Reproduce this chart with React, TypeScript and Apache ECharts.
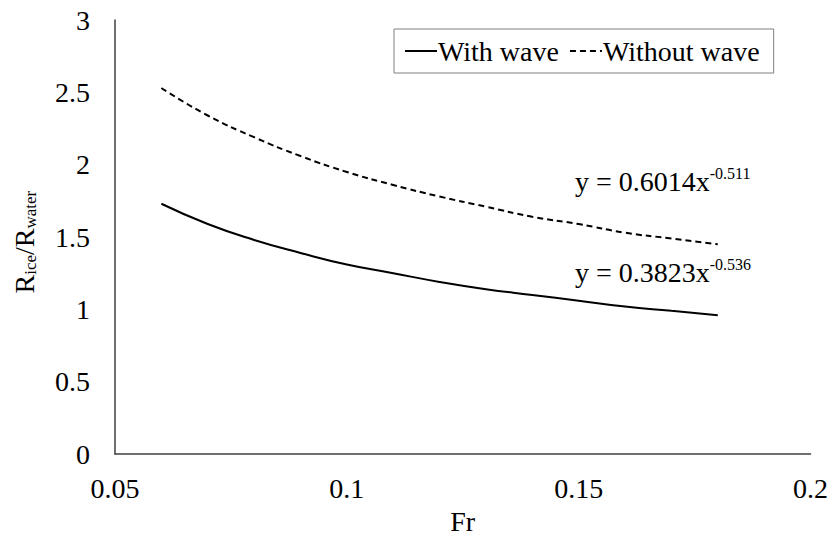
import React, { useEffect, useRef } from "react";
import * as echarts from "echarts";

const frValues = [0.06, 0.07, 0.08, 0.09, 0.1, 0.11, 0.12, 0.13, 0.14, 0.15, 0.16, 0.17, 0.18];
const withWave = [1.73, 1.59, 1.48, 1.39, 1.31, 1.25, 1.19, 1.14, 1.1, 1.06, 1.02, 0.99, 0.96];
const withoutWave = [2.53, 2.34, 2.19, 2.06, 1.95, 1.86, 1.78, 1.71, 1.64, 1.59, 1.53, 1.49, 1.45];
const seriesNames = ["With wave", "Without wave"];
const fitLabels = [
  { base: "y = 0.6014x", exp: "-0.511" },
  { base: "y = 0.3823x", exp: "-0.536" },
];

const FONT = "Liberation Serif";
const FS = 28;

export default function App() {
  const ref = useRef<HTMLDivElement>(null);
  useEffect(() => {
    if (!ref.current) return;
    const chart = echarts.init(ref.current, undefined, { renderer: "svg" });
    const axisColor = "#404040";
    const rich = {
      b: { fontSize: FS, fontFamily: FONT, color: "#000", lineHeight: 34 },
      s: { fontSize: 16, fontFamily: FONT, color: "#000", lineHeight: 34, padding: [0, 0, 16, 0] },
    };
    chart.setOption({
      animation: false,
      backgroundColor: "#fff",
      textStyle: { fontFamily: FONT },
      grid: { left: 115, right: 20, top: 20, bottom: 82, containLabel: false },
      legend: {
        left: 394,
        top: 29,
        data: seriesNames,
        itemWidth: 32,
        itemHeight: 14,
        itemGap: 10,
        padding: [8, 14, 8, 10],
        borderColor: "#808080",
        borderWidth: 1,
        itemStyle: { opacity: 0, borderWidth: 0 },
        textStyle: { fontFamily: FONT, fontSize: FS, color: "#000", padding: [0, 0, 0, -4] },
      },
      xAxis: {
        type: "value",
        min: 0.05,
        max: 0.2,
        interval: 0.05,
        name: "Fr",
        nameLocation: "middle",
        nameGap: 52,
        nameTextStyle: { fontFamily: FONT, fontSize: FS, color: "#000" },
        axisLine: { show: true, lineStyle: { color: axisColor, width: 1.5 } },
        axisTick: { show: false },
        splitLine: { show: false },
        axisLabel: { fontFamily: FONT, fontSize: FS, color: "#000", margin: 20 },
      },
      yAxis: {
        type: "value",
        min: 0,
        max: 3,
        interval: 0.5,
        name: "{b|R}{s|ice}{b|/R}{s|water}",
        nameLocation: "middle",
        nameGap: 74,
        nameRotate: 90,
        nameTextStyle: {
          fontFamily: FONT,
          fontSize: FS,
          color: "#000",
          padding: [0, 10, 0, 0],
          rich: {
            b: { fontSize: FS, fontFamily: FONT, color: "#000", lineHeight: 34 },
            s: { fontSize: 17, fontFamily: FONT, color: "#000", lineHeight: 34, padding: [13, 0, 0, 0] },
          },
        },
        axisLine: { show: true, lineStyle: { color: axisColor, width: 1.5 } },
        axisTick: { show: false },
        splitLine: { show: false },
        axisLabel: { fontFamily: FONT, fontSize: FS, color: "#000", margin: 25 },
      },
      series: [
        {
          name: seriesNames[0],
          type: "line",
          smooth: true,
          symbol: "none",
          data: frValues.map((x, i) => [x, withWave[i]]),
          lineStyle: { color: "#000", width: 2 },
          itemStyle: { color: "#000" },
        },
        {
          name: seriesNames[1],
          type: "line",
          smooth: true,
          symbol: "none",
          data: frValues.map((x, i) => [x, withoutWave[i]]),
          lineStyle: { color: "#000", width: 2, type: [6, 4] },
          itemStyle: { color: "#000" },
        },
      ],
      graphic: [
        {
          type: "text",
          x: 575,
          y: 181,
          style: {
            text: `{b|${fitLabels[0].base}}{s|${fitLabels[0].exp}}`,
            rich,
            verticalAlign: "middle",
          },
        },
        {
          type: "text",
          x: 575,
          y: 272,
          style: {
            text: `{b|${fitLabels[1].base}}{s|${fitLabels[1].exp}}`,
            rich,
            verticalAlign: "middle",
          },
        },
      ],
    });
    return () => chart.dispose();
  }, []);
  return (
    <div
      ref={ref}
      style={{ position: "fixed", left: 0, top: 0, width: 831, height: 540, background: "#fff" }}
    />
  );
}
